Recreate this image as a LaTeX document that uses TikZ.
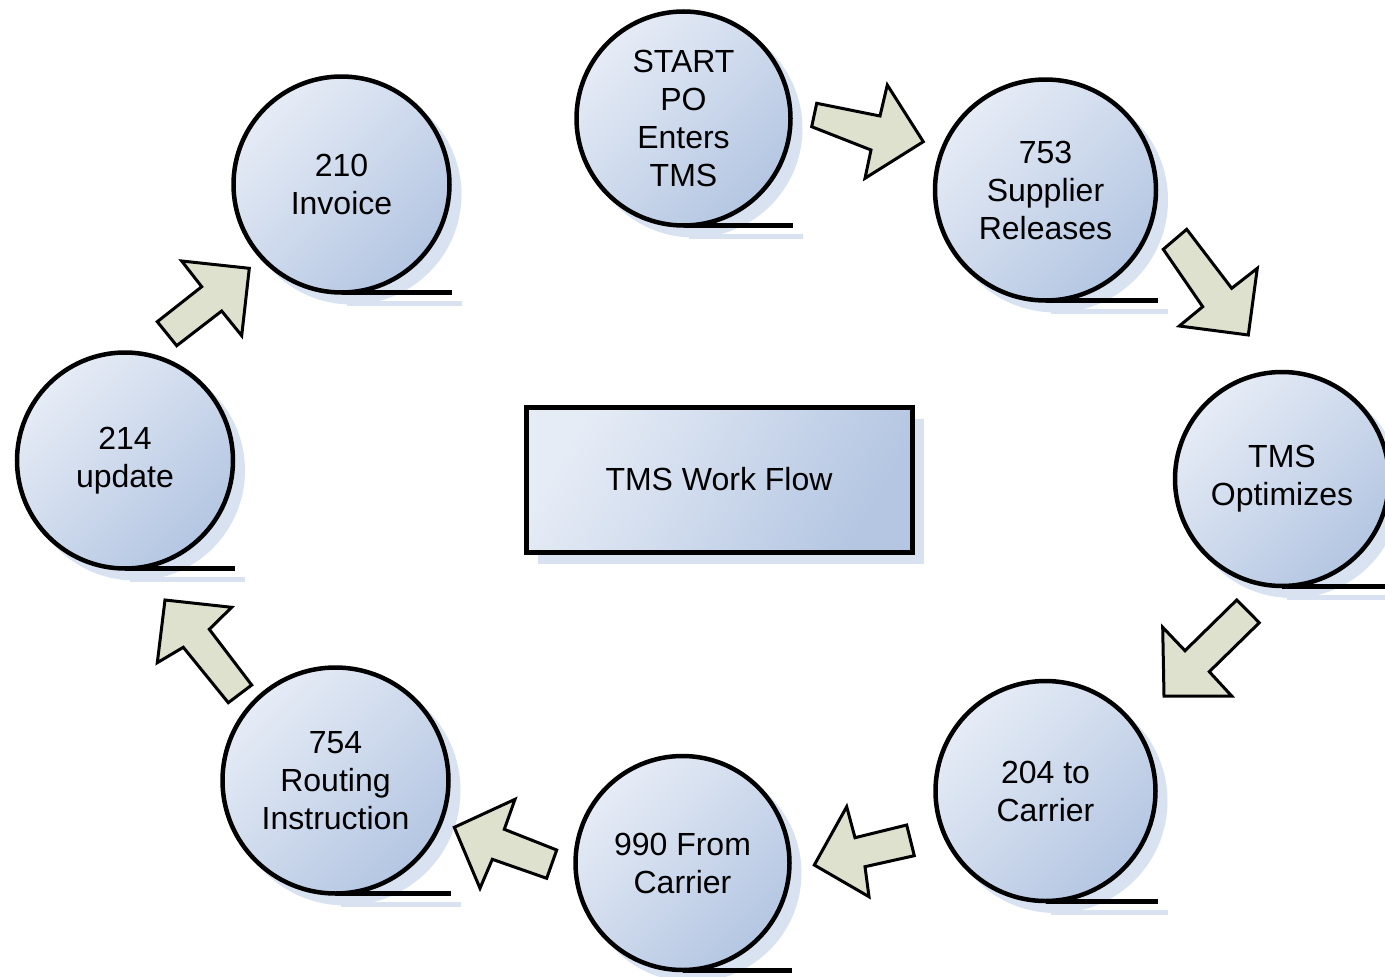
\documentclass[tikz,border=0pt]{standalone}
\usepackage{fontspec}
\setmainfont{Liberation Sans}
\definecolor{cLight}{RGB}{230,236,246}
\definecolor{cDark}{RGB}{180,198,226}
\definecolor{shadowblue}{RGB}{216,226,241}
\definecolor{arrowfill}{RGB}{221,225,205}
\tikzset{
  stage/.style={circle, draw=black, line width=4.5pt, inner sep=0pt, outer sep=0pt,
    top color=cLight, bottom color=cDark, shading angle=45, align=center,
    font=\fontsize{32}{38}\selectfont},
  tapeline/.style={line width=5pt, black},
  shadowline/.style={line width=5pt, shadowblue},
  shadowfill/.style={fill=shadowblue},
  titlebox/.style={rectangle, draw=black, line width=5pt, inner sep=0pt, outer sep=0pt,
    top color=cLight, bottom color=cDark, shading angle=60,
    minimum width=386pt, minimum height=145pt, font=\fontsize{32}{38}\selectfont},
  blockarrow/.style={draw=black, line width=3pt, fill=arrowfill, line join=miter}
}
\newcommand\stagenode[5]{%
  \fill[shadowfill] (#2+10,#3+10) circle[radius={(#4+2)*1pt}];
  \draw[shadowline] (#2+5,#3+#4+11) -- (#2+#4+12,#3+#4+11);
  \node[stage, minimum size={2*#4*1pt}] (#1) at (#2,#3) {#5};
  \draw[tapeline] (#1.south) -- ++(#4+2,0);
}
\begin{document}
\begin{tikzpicture}[x=1pt,y=-1pt]
\useasboundingbox (0,0) rectangle (1385,977);
\begin{scope}
\clip (0,0) rectangle (1385,977);
% title box
\fill[shadowfill] (538,419) rectangle (924,564);
\node[titlebox] (title) at (719,479.5) {TMS Work Flow};
% stages
\stagenode{start}{683.5}{118.5}{107}{START\\PO\\Enters\\TMS}
\stagenode{s753}{1045.5}{190}{110.5}{753\\Supplier\\Releases}
\stagenode{opt}{1282}{479}{107}{TMS\\Optimizes}
\stagenode{s204}{1045.5}{791}{110}{204 to\\Carrier}
\stagenode{s990}{682.5}{863}{107}{990 From\\Carrier}
\stagenode{s754}{335.5}{780.5}{113}{754\\Routing\\Instruction}
\stagenode{s214}{125}{460.5}{108}{214\\update}
\stagenode{s210}{341.5}{184.5}{108}{210\\Invoice}
% block arrows
\draw[blockarrow] (816.7,103.3) -- (880,116) -- (887.3,85) -- (923.3,141.7) -- (865,178.3) -- (871,150) -- (811.7,126.7) -- cycle;
\draw[blockarrow] (1186.7,229.3) -- (1231.7,288.3) -- (1257.3,268.3) -- (1248.3,335) -- (1179.3,326) -- (1202.7,306.7) -- (1163.3,249.3) -- cycle;
\draw[blockarrow] (1259.3,622.7) -- (1209.3,671.7) -- (1231.7,696) -- (1164,696) -- (1162.7,627.3) -- (1185,650.7) -- (1236.7,600) -- cycle;
\draw[blockarrow] (914.3,855.7) -- (865,866.7) -- (869,896.7) -- (814.3,865) -- (846.7,806.7) -- (855,837.7) -- (906.7,825) -- cycle;
\draw[blockarrow] (546.7,878.3) -- (492.3,859.3) -- (480,888.3) -- (454.3,827.3) -- (515,799.3) -- (504.3,829.3) -- (556.7,850) -- cycle;
\draw[blockarrow] (228.3,702.7) -- (183.3,647.3) -- (157.3,662.7) -- (165,600) -- (231.7,607.3) -- (209.3,629.3) -- (251.7,685) -- cycle;
\draw[blockarrow] (157.3,321.7) -- (201.7,286.7) -- (181.7,261) -- (249.3,268.3) -- (241.7,335.7) -- (221.7,311) -- (176.7,345.7) -- cycle;
\end{scope}
\end{tikzpicture}
\end{document}
